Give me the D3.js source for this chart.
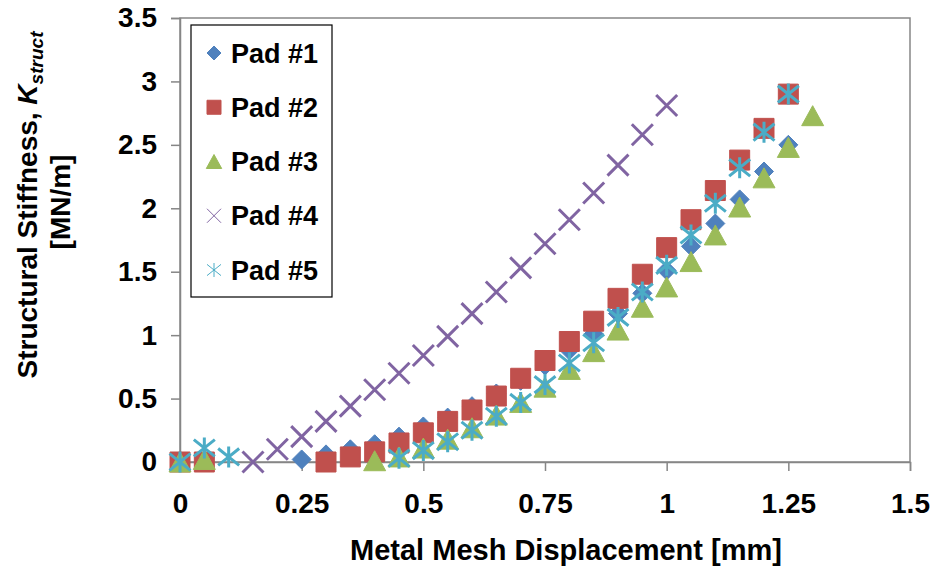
<!DOCTYPE html>
<html>
<head>
<meta charset="utf-8">
<script src="https://cdn.jsdelivr.net/npm/d3@7"></script>
<style>
  html, body { margin: 0; padding: 0; background: #fff; }
  svg { display: block; font-family: "Liberation Sans", Arial, sans-serif; font-weight: bold; }
</style>
</head>
<body>
<svg id="chart" width="932" height="569"></svg>
<script>
// Stiffness measurements per pad: displacement [mm] and stiffness [MN/m]
const seriesNames = ["Pad #1", "Pad #2", "Pad #3", "Pad #4", "Pad #5"];

const pad1X = [0, 0.25, 0.3, 0.35, 0.4, 0.45, 0.5, 0.55, 0.6, 0.65, 0.7, 0.75, 0.8, 0.85, 0.9, 0.95, 1.0, 1.05, 1.1, 1.15, 1.2, 1.25];
const pad1Y = [0, 0.02, 0.06, 0.10, 0.14, 0.20, 0.28, 0.35, 0.44, 0.54, 0.64, 0.76, 0.88, 1.01, 1.17, 1.33, 1.51, 1.70, 1.88, 2.07, 2.29, 2.50];

const pad2X = [0, 0.05, 0.3, 0.35, 0.4, 0.45, 0.5, 0.55, 0.6, 0.65, 0.7, 0.75, 0.8, 0.85, 0.9, 0.95, 1.0, 1.05, 1.1, 1.15, 1.2, 1.25];
const pad2Y = [0, 0, 0.0, 0.04, 0.08, 0.15, 0.23, 0.32, 0.41, 0.52, 0.66, 0.80, 0.95, 1.11, 1.29, 1.48, 1.69, 1.91, 2.14, 2.38, 2.63, 2.90];

const pad3X = [0, 0.05, 0.4, 0.45, 0.5, 0.55, 0.6, 0.65, 0.7, 0.75, 0.8, 0.85, 0.9, 0.95, 1.0, 1.05, 1.1, 1.15, 1.2, 1.25, 1.3];
const pad3Y = [0, 0.02, 0.01, 0.04, 0.11, 0.18, 0.27, 0.37, 0.47, 0.59, 0.73, 0.87, 1.04, 1.22, 1.38, 1.58, 1.79, 2.01, 2.24, 2.48, 2.73];

const pad4X = [0.15, 0.2, 0.25, 0.3, 0.35, 0.4, 0.45, 0.5, 0.55, 0.6, 0.65, 0.7, 0.75, 0.8, 0.85, 0.9, 0.95, 1.0];
const pad4Y = [0, 0.10, 0.20, 0.32, 0.44, 0.57, 0.70, 0.84, 0.99, 1.17, 1.34, 1.53, 1.72, 1.91, 2.12, 2.34, 2.58, 2.81];

const pad5X = [0, 0.05, 0.1, 0.45, 0.5, 0.55, 0.6, 0.65, 0.7, 0.75, 0.8, 0.85, 0.9, 0.95, 1.0, 1.05, 1.1, 1.15, 1.2, 1.25];
const pad5Y = [0, 0.11, 0.04, 0.03, 0.09, 0.16, 0.25, 0.36, 0.47, 0.61, 0.78, 0.94, 1.14, 1.34, 1.55, 1.79, 2.04, 2.32, 2.60, 2.90];

const xTicks = [0, 0.25, 0.5, 0.75, 1, 1.25, 1.5];
const xTickLabels = ["0", "0.25", "0.5", "0.75", "1", "1.25", "1.5"];
const yTicks = [0, 0.5, 1, 1.5, 2, 2.5, 3, 3.5];
const yTickLabels = ["0", "0.5", "1", "1.5", "2", "2.5", "3", "3.5"];

const colors = ["#4F81BD", "#C0504D", "#9BBB59", "#8064A2", "#4BACC6"];
const shapes = ["diamond", "square", "triangle", "cross", "star"];

const series = [
  { x: pad1X, y: pad1Y },
  { x: pad2X, y: pad2Y },
  { x: pad3X, y: pad3Y },
  { x: pad4X, y: pad4Y },
  { x: pad5X, y: pad5Y }
].map((s, i) => ({
  name: seriesNames[i], color: colors[i], shape: shapes[i],
  points: s.x.map((xv, j) => ({ x: xv, y: s.y[j] }))
}));

const svg = d3.select("#chart");
const plotLeft = 180, plotRight = 910, plotTop = 18, plotBottom = 462;

const x = d3.scaleLinear().domain([0, 1.5]).range([plotLeft, plotRight]);
const y = d3.scaleLinear().domain([0, 3.5]).range([plotBottom, plotTop]);

const axisColor = "#868686";
const fontSize = 28;

// Plot-area frame
svg.append("rect")
  .attr("x", plotLeft).attr("y", plotTop)
  .attr("width", plotRight - plotLeft).attr("height", plotBottom - plotTop)
  .attr("fill", "none").attr("stroke", axisColor).attr("stroke-width", 1.5);

// X axis
const xAxis = d3.axisBottom(x)
  .tickValues(xTicks)
  .tickFormat((d, i) => xTickLabels[i])
  .tickSize(9).tickPadding(22);
const gx = svg.append("g").attr("transform", `translate(0,${plotBottom})`).call(xAxis);
gx.select(".domain").attr("stroke", axisColor).attr("stroke-width", 1.5);
gx.selectAll(".tick line").attr("stroke", axisColor).attr("stroke-width", 1.5);
gx.selectAll(".tick text")
  .attr("fill", "#000").attr("font-size", fontSize).attr("font-weight", "bold")
  .attr("font-family", "Liberation Sans, Arial, sans-serif");

// Y axis
const yAxis = d3.axisLeft(y)
  .tickValues(yTicks)
  .tickFormat((d, i) => yTickLabels[i])
  .tickSize(9).tickPadding(14);
const gy = svg.append("g").attr("transform", `translate(${plotLeft},0)`).call(yAxis);
gy.select(".domain").attr("stroke", axisColor).attr("stroke-width", 1.5);
gy.selectAll(".tick line").attr("stroke", axisColor).attr("stroke-width", 1.5);
gy.selectAll(".tick text")
  .attr("fill", "#000").attr("font-size", fontSize).attr("font-weight", "bold")
  .attr("font-family", "Liberation Sans, Arial, sans-serif");

// Axis titles
svg.append("text")
  .attr("x", (plotLeft + plotRight) / 2 + 21).attr("y", 560)
  .attr("text-anchor", "middle").attr("font-size", fontSize + 1)
  .text("Metal Mesh Displacement [mm]");

const yTitle = svg.append("text")
  .attr("transform", "translate(37,205) rotate(-90)")
  .attr("text-anchor", "middle").attr("font-size", fontSize);
yTitle.append("tspan").text("Structural Stiffness, ");
yTitle.append("tspan").attr("font-style", "italic").text("K");
yTitle.append("tspan").attr("font-style", "italic").attr("font-size", fontSize * 0.68)
  .attr("dy", 6).text("struct");

svg.append("text")
  .attr("transform", "translate(70,202) rotate(-90)")
  .attr("text-anchor", "middle").attr("font-size", fontSize)
  .text("[MN/m]");

// Marker drawing
function markerPath(shape, s) {
  const h = s / 2;
  switch (shape) {
    case "diamond": return `M0,${-h}L${h},0L0,${h}L${-h},0Z`;
    case "square": return `M${-h},${-h}H${h}V${h}H${-h}Z`;
    case "triangle": return `M0,${-h}L${h * 1.1},${h}L${-h * 1.1},${h}Z`;
    case "cross": return `M${-h},${-h}L${h},${h}M${h},${-h}L${-h},${h}`;
    case "star": return `M${-h},${-h * 0.8}L${h},${h * 0.8}M${h},${-h * 0.8}L${-h},${h * 0.8}M0,${-h}V${h}`;
  }
}
function drawMarker(g, shape, color, size, lineWidth) {
  const p = g.append("path").attr("d", markerPath(shape, size));
  if (shape === "cross" || shape === "star") {
    p.attr("fill", "none").attr("stroke", color).attr("stroke-width", lineWidth);
  } else {
    p.attr("fill", color).attr("stroke", color).attr("stroke-width", 1);
  }
}

const plotSizes = { diamond: 19, square: 20, triangle: 20, cross: 21, star: 21 };

series.forEach(s => {
  const g = svg.append("g").attr("class", "series");
  g.selectAll("g.pt").data(s.points).join("g")
    .attr("class", "pt")
    .attr("transform", d => `translate(${x(d.x)},${y(d.y)})`)
    .each(function () { drawMarker(d3.select(this), s.shape, s.color, plotSizes[s.shape], 3); });
});

// Legend
const legend = svg.append("g");
legend.append("rect")
  .attr("x", 191).attr("y", 25).attr("width", 141).attr("height", 272)
  .attr("fill", "#fff").attr("stroke", "#000").attr("stroke-width", 1.2);
const legendRowY = d3.scalePoint().domain(seriesNames).range([53, 270]);
series.forEach(s => {
  const cy = legendRowY(s.name);
  const m = legend.append("g").attr("transform", `translate(214,${cy})`);
  drawMarker(m, s.shape, s.color, 14, 1);
  legend.append("text")
    .attr("x", 231).attr("y", cy).attr("dy", "0.36em")
    .attr("font-size", 27).text(s.name);
});
</script>
</body>
</html>
